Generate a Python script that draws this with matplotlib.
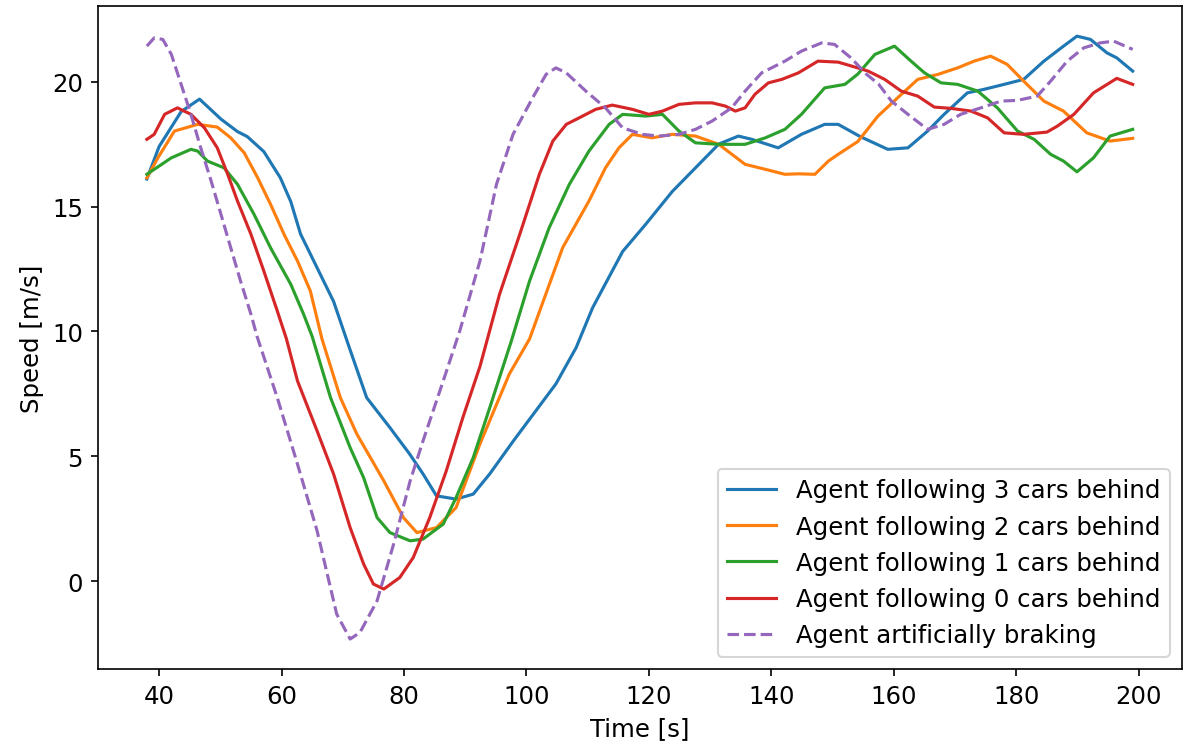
import matplotlib
matplotlib.use("Agg")
import matplotlib.pyplot as plt

# time [s] and speed [m/s], one pair of lists per agent
t_3cars = [38, 40, 43.6, 46.6, 50.1, 52.8, 54.4, 57.1, 59.8, 61.5, 63.1, 65.8, 68.5, 71.0,
           73.9, 77.7, 80.9, 83.1, 85.3, 88.5, 91.3, 94.0, 97.8, 104.8, 108.1, 110.8,
           115.7, 119.5, 123.8, 127.6, 131.4, 134.6, 136.8, 141.1, 144.9, 148.7, 150.9,
           154.5, 159.0, 162.3, 165.5, 168.2, 172.0, 174.7, 178.0, 181.2, 184.5, 187.7,
           189.9, 192.1, 194.8, 196.4, 199]
v_3cars = [16.1, 17.4, 18.8, 19.3, 18.5, 18.0, 17.8, 17.2, 16.15, 15.2, 13.9, 12.55, 11.2,
           9.4, 7.35, 6.15, 5.1, 4.3, 3.42, 3.29, 3.49, 4.3, 5.6, 7.9, 9.35, 10.95,
           13.2, 14.3, 15.6, 16.55, 17.5, 17.82, 17.69, 17.35, 17.89, 18.29, 18.29,
           17.8, 17.29, 17.35, 18.02, 18.69, 19.55, 19.69, 19.89, 20.09, 20.82, 21.42,
           21.82, 21.69, 21.15, 20.95, 20.42]

t_2cars = [38, 39.8, 42.5, 46.3, 49.5, 51.7, 53.9, 56.1, 58.2, 60.4, 62.6, 64.7, 66.6,
           69.6, 72.3, 76.7, 79.9, 82.1, 85.3, 88.5, 92.4, 97.2, 100.5, 105.9, 110.2,
           112.9, 115.1, 117.3, 120.5, 123.8, 127.6, 131.4, 135.7, 139.0, 142.2, 144.4,
           147.1, 149.3, 150.9, 154.1, 157.4, 160.6, 163.9, 167.2, 170.4, 173.1, 175.8,
           178.5, 181.2, 184.5, 187.7, 191.5, 195.3, 199]
v_2cars = [16.15, 16.95, 18.02, 18.29, 18.18, 17.75, 17.15, 16.15, 15.09, 13.89, 12.82,
           11.62, 9.7, 7.35, 5.89, 4.02, 2.55, 1.95, 2.15, 2.95, 5.5, 8.3, 9.7, 13.35,
           15.22, 16.55, 17.35, 17.89, 17.75, 17.89, 17.82, 17.49, 16.69, 16.49, 16.29,
           16.31, 16.29, 16.82, 17.09, 17.6, 18.62, 19.35, 20.09, 20.29, 20.55, 20.82,
           21.02, 20.69, 20.02, 19.22, 18.82, 17.95, 17.62, 17.73]

t_1cars = [38, 42.0, 45.2, 46.3, 47.9, 50.6, 52.8, 55.5, 58.2, 61.5, 63.6, 65.0, 68.0,
           71.2, 73.4, 75.6, 77.7, 81.0, 83.1, 86.4, 88.5, 91.3, 94.0, 97.5, 100.5,
           103.7, 107.0, 110.2, 113.5, 115.7, 119.5, 122.2, 124.9, 127.6, 131.4, 135.7,
           139.0, 142.2, 144.9, 148.7, 152.0, 154.1, 156.9, 160.1, 162.8, 165.0, 167.7,
           170.4, 173.7, 176.9, 180.2, 182.9, 185.6, 187.7, 189.9, 192.6, 195.3, 199]
v_1cars = [16.29, 16.95, 17.29, 17.22, 16.82, 16.55, 15.89, 14.69, 13.35, 11.89, 10.69,
           9.8, 7.35, 5.35, 4.15, 2.55, 1.95, 1.62, 1.69, 2.29, 3.35, 4.95, 6.95, 9.6,
           12.02, 14.15, 15.89, 17.22, 18.29, 18.69, 18.62, 18.69, 18.02, 17.55, 17.49,
           17.49, 17.75, 18.09, 18.69, 19.75, 19.89, 20.3, 21.09, 21.42, 20.82, 20.35,
           19.95, 19.89, 19.62, 18.95, 18.02, 17.69, 17.09, 16.82, 16.39, 16.95, 17.82,
           18.09]

t_0cars = [38, 39.2, 40.9, 43.0, 45.2, 47.4, 49.5, 51.2, 52.8, 55.0, 57.1, 59.3, 60.8,
           62.6, 65.8, 68.5, 71.2, 73.4, 75.0, 76.7, 79.3, 81.5, 84.2, 86.9, 89.6, 92.4,
           95.6, 98.9, 102.1, 104.3, 106.5, 108.6, 111.3, 114.0, 117.3, 120.0, 122.2,
           124.9, 127.6, 130.3, 132.5, 134.1, 135.7, 137.3, 139.5, 141.7, 144.4, 147.6,
           150.9, 154.1, 155.8, 158.5, 161.2, 163.9, 166.6, 169.3, 172.6, 175.3, 178.0,
           181.2, 185.0, 186.7, 189.4, 192.6, 196.4, 199]
v_0cars = [17.69, 17.89, 18.69, 18.95, 18.69, 18.15, 17.35, 16.29, 15.22, 13.89, 12.42,
           10.82, 9.7, 8.02, 6.02, 4.29, 2.15, 0.69, -0.11, -0.31, 0.15, 0.95, 2.55, 4.42,
           6.55, 8.6, 11.49, 13.89, 16.29, 17.62, 18.29, 18.55, 18.89, 19.06, 18.89,
           18.69, 18.82, 19.09, 19.15, 19.15, 19.02, 18.82, 18.95, 19.49, 19.95, 20.09,
           20.35, 20.82, 20.78, 20.55, 20.42, 20.09, 19.62, 19.42, 18.98, 18.93, 18.82,
           18.55, 17.95, 17.89, 17.98, 18.22, 18.69, 19.55, 20.13, 19.89]

t_brake = [38, 39.2, 40.6, 42.0, 43.6, 45.2, 46.8, 48.5, 50.1, 51.7, 53.3, 55.0, 56.0,
           59.3, 62.6, 65.8, 69.0, 71.2, 72.8, 75.6, 78.3, 81.0, 83.1, 86.4, 89.1, 92.4,
           95.1, 97.8, 101.0, 103.2, 104.8, 106.5, 109.7, 112.9, 115.7, 118.9, 121.6,
           124.9, 127.6, 130.3, 133.5, 135.7, 138.4, 142.2, 144.9, 148.2, 150.3, 153.0,
           155.5, 157.5, 159.6, 162.3, 165.5, 168.2, 170.9, 174.2, 177.5, 180.2, 183.4,
           185.6, 188.3, 191.0, 193.7, 195.9, 199]
v_brake = [21.42, 21.75, 21.69, 21.09, 19.89, 18.69, 17.35, 16.02, 14.69, 13.35, 12.02,
           10.69, 9.8, 7.35, 4.69, 2.02, -1.31, -2.31, -2.05, -0.78, 1.49, 4.02, 5.62,
           8.02, 10.02, 12.82, 15.89, 17.89, 19.35, 20.29, 20.55, 20.35, 19.62, 18.95,
           18.15, 17.89, 17.82, 17.89, 18.09, 18.42, 18.95, 19.62, 20.35, 20.82, 21.22,
           21.55, 21.49, 20.95, 20.3, 19.9, 19.22, 18.69, 18.09, 18.29, 18.69, 18.95,
           19.22, 19.25, 19.42, 20.02, 20.82, 21.35, 21.55, 21.62, 21.29]

labels = ["Agent following 3 cars behind", "Agent following 2 cars behind",
          "Agent following 1 cars behind", "Agent following 0 cars behind",
          "Agent artificially braking"]

plt.rcParams["font.size"] = 11.7

fig, ax = plt.subplots(figsize=(1184/150, 753/150), dpi=150)
fig.subplots_adjust(left=0.0824, right=0.9983, top=0.9907, bottom=0.110)

ax.plot(t_3cars, v_3cars, color="tab:blue", label=labels[0])
ax.plot(t_2cars, v_2cars, color="tab:orange", label=labels[1])
ax.plot(t_1cars, v_1cars, color="tab:green", label=labels[2])
ax.plot(t_0cars, v_0cars, color="tab:red", label=labels[3])
ax.plot(t_brake, v_brake, color="tab:purple", linestyle="--", label=labels[4])

ax.set_xlabel("Time [s]")
ax.set_ylabel("Speed [m/s]")
ax.legend(loc="lower right")

fig.savefig("out.png", dpi=150)
